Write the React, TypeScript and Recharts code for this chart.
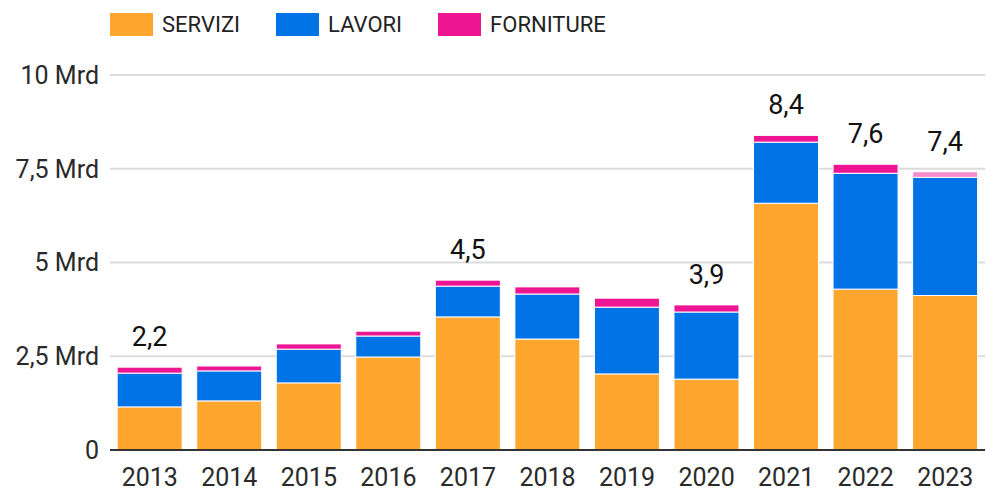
import { Bar, BarChart, CartesianGrid, Cell, LabelList, XAxis, YAxis } from "recharts"

const years = ["2013", "2014", "2015", "2016", "2017", "2018", "2019", "2020", "2021", "2022", "2023"]
const servizi = [1.15, 1.31, 1.79, 2.48, 3.55, 2.96, 2.03, 1.89, 6.58, 4.29, 4.12]
const lavori = [0.9, 0.8, 0.9, 0.56, 0.82, 1.2, 1.78, 1.79, 1.63, 3.09, 3.15]
const forniture = [0.16, 0.13, 0.14, 0.13, 0.16, 0.19, 0.24, 0.19, 0.18, 0.24, 0.15]
const totalLabels = ["2,2", "", "", "", "4,5", "", "", "3,9", "8,4", "7,6", "7,4"]
const yTicks = [0, 2.5, 5, 7.5, 10]

const data = years.map((year, i) => ({
  year,
  servizi: servizi[i],
  lavori: lavori[i],
  forniture: forniture[i],
  label: totalLabels[i],
}))

const legendItems = [
  { name: "SERVIZI", color: "#ffa62e" },
  { name: "LAVORI", color: "#0073e6" },
  { name: "FORNITURE", color: "#ee1593" },
]

const fmtTick = (v: number) => (v === 0 ? "0" : `${String(v).replace(".", ",")} Mrd`)

// label over the stack, only where the source shows one
const TotalLabel = (props: any) => {
  const { x, y, width, index } = props
  const text = totalLabels[index]
  if (!text) return null
  return (
    <text x={x + width / 2} y={y - 21} textAnchor="middle" fontSize={27} fill="#111" fontFamily="Roboto">
      {text}
    </text>
  )
}

export default function App() {
  return (
    <div style={{ position: "absolute", left: 0, top: 0, width: 986, height: 491, background: "#fff", fontFamily: "Roboto" }}>
      <div style={{ position: "absolute", top: 12, left: 110, display: "flex", alignItems: "center" }}>
        {legendItems.map((item) => (
          <div key={item.name} style={{ display: "flex", alignItems: "center", marginRight: 36 }}>
            <div style={{ width: 43, height: 23, background: item.color, marginRight: 9 }} />
            <span style={{ fontSize: 22, color: "#222" }}>{item.name}</span>
          </div>
        ))}
      </div>
      <BarChart
        width={986}
        height={491}
        data={data}
        margin={{ top: 75, right: 1, bottom: 1, left: 0 }}
        barCategoryGap="9%"
      >
        <CartesianGrid vertical={false} stroke="#dcdcdc" strokeWidth={2} />
        <XAxis
          dataKey="year"
          height={40}
          tickLine={false}
          axisLine={{ stroke: "#333", strokeWidth: 2 }}
          tick={{ fontSize: 25, fill: "#2a2a2a", fontFamily: "Roboto" }}
          tickMargin={12}
        />
        <YAxis
          width={110}
          domain={[0, 10]}
          ticks={yTicks}
          tickFormatter={fmtTick}
          axisLine={false}
          tickLine={false}
          tick={{ fontSize: 25, fill: "#2a2a2a", fontFamily: "Roboto" }}
          tickMargin={5}
        />
        <Bar dataKey="servizi" stackId="a" fill="#ffa62e" stroke="#fff" strokeWidth={1} isAnimationActive={false} />
        <Bar dataKey="lavori" stackId="a" fill="#0073e6" stroke="#fff" strokeWidth={1} isAnimationActive={false} />
        <Bar dataKey="forniture" stackId="a" fill="#ee1593" stroke="#fff" strokeWidth={1} isAnimationActive={false}>
          {data.map((d, i) => (
            <Cell key={d.year} fill={i === data.length - 1 ? "#f58ccb" : "#ee1593"} />
          ))}
          <LabelList dataKey="label" content={TotalLabel} />
        </Bar>
      </BarChart>
    </div>
  )
}
